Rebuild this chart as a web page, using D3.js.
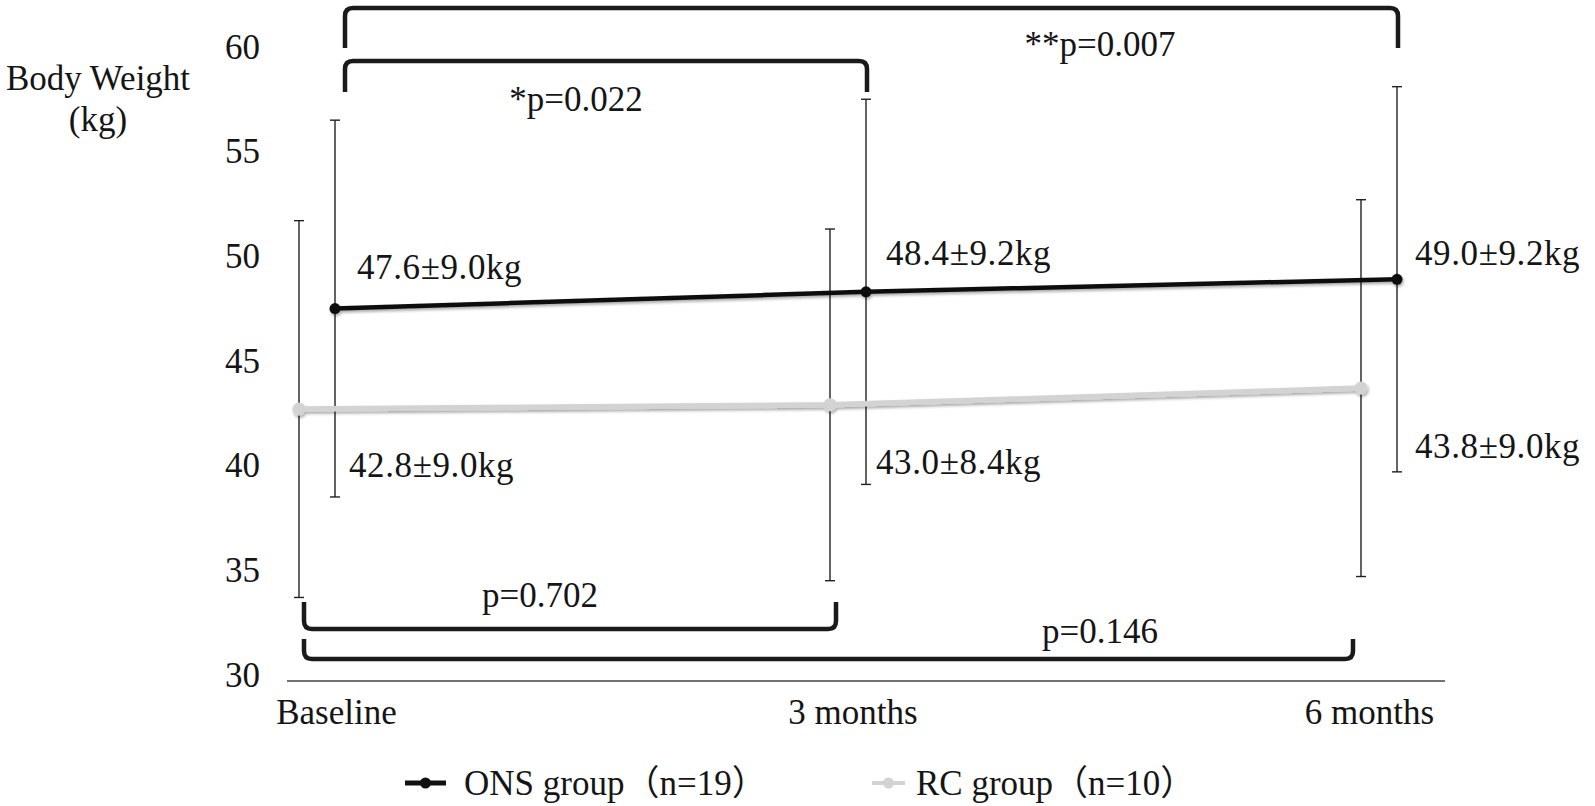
<!DOCTYPE html>
<html>
<head>
<meta charset="utf-8">
<script src="https://cdn.jsdelivr.net/npm/d3@7"></script>
<style>
  body { margin: 0; background: #fff; }
  text { font-family: "Liberation Serif", "Times New Roman", "Noto Sans CJK SC", serif; fill: #151515; }
</style>
</head>
<body>
<div id="chart"></div>
<script>
const WIDTH = 1595;
const HEIGHT = 806;

// data
const categories = ["Baseline", "3 months", "6 months"];
const onsMean = [47.6, 48.4, 49.0];
const onsSd = [9.0, 9.2, 9.2];
const rcMean = [42.8, 43.0, 43.8];
const rcSd = [9.0, 8.4, 9.0];
const yTicks = [30, 35, 40, 45, 50, 55, 60];
const seriesNames = ["ONS group（n=19）", "RC group（n=10）"];
const brackets = [
  {from: 0, to: 2, series: 0, label: "**p=0.007"},
  {from: 0, to: 1, series: 0, label: "*p=0.022"},
  {from: 0, to: 1, series: 1, label: "p=0.702"},
  {from: 0, to: 2, series: 1, label: "p=0.146"}
];

// layout bits
const SERIES_OFFSET = [18, -18];
const SERIES_COLOR = ["#111111", "#d3d3d3"];
const LABEL_DY = [[-30, -27, -14], [68, 69, 70]];
const LABEL_DX = [[22, 20, 18], [14, 10, 18]];
const BRACKET_Y = [{bar: 8, leg: 48, text: 56, dx: 0}, {bar: 61, leg: 92, text: 111, dx: -30},
                   {bar: 629, leg: 602, text: 607, dx: -30}, {bar: 659, leg: 639, text: 643, dx: 0}];

const svg = d3.select("#chart").append("svg")
    .attr("width", WIDTH)
    .attr("height", HEIGHT);

const defs = svg.append("defs");
defs.append("filter").attr("id", "shadow")
    .attr("x", "-5%").attr("y", "-50%").attr("width", "110%").attr("height", "200%")
  .append("feDropShadow")
    .attr("dx", 1).attr("dy", 2).attr("stdDeviation", 1.5)
    .attr("flood-color", "#000").attr("flood-opacity", 0.35);

const y = d3.scaleLinear().domain([30, 60]).range([677, 49]);
const xPt = d3.scalePoint().domain(categories).range([317, 1379]);
const xLab = d3.scalePoint().domain(categories).range([336, 1369]);

const xOf = (s, i) => xPt(categories[i]) + SERIES_OFFSET[s];

// y axis labels
const yAxis = svg.append("g")
    .attr("transform", "translate(260,-2)")
    .call(d3.axisLeft(y).tickValues(yTicks).tickSize(0).tickPadding(0));
yAxis.select(".domain").remove();
yAxis.attr("font-family", null);
yAxis.selectAll("text")
    .attr("font-size", 35);

// x axis line + labels
svg.append("line")
    .attr("x1", 287).attr("x2", 1445)
    .attr("y1", y(30) + 4).attr("y2", y(30) + 4)
    .attr("stroke", "#444").attr("stroke-width", 1.3);

const xAxis = svg.append("g")
    .attr("transform", `translate(0,${y(30) + 4})`)
    .call(d3.axisBottom(xLab).tickSize(0).tickPadding(18));
xAxis.select(".domain").remove();
xAxis.attr("font-family", null);
xAxis.selectAll("text")
    .attr("font-size", 35);

// y title
svg.append("text").attr("x", 98).attr("y", 90)
    .attr("text-anchor", "middle").attr("font-size", 35).text("Body Weight");
svg.append("text").attr("x", 98).attr("y", 131)
    .attr("text-anchor", "middle").attr("font-size", 35).text("(kg)");

const series = [
  {mean: onsMean, sd: onsSd},
  {mean: rcMean, sd: rcSd}
];

// error bars
series.forEach((s, si) => {
  const g = svg.append("g").attr("class", "errbars");
  const rows = s.mean.map((m, i) => ({i, lo: m - s.sd[i], hi: m + s.sd[i]}));
  g.selectAll("line.v").data(rows).enter().append("line")
      .attr("x1", d => xOf(si, d.i)).attr("x2", d => xOf(si, d.i))
      .attr("y1", d => y(d.lo)).attr("y2", d => y(d.hi))
      .attr("stroke", "#222").attr("stroke-width", 1.4);
  ["lo", "hi"].forEach(k => {
    g.selectAll("line.c" + k).data(rows).enter().append("line")
        .attr("x1", d => xOf(si, d.i) - 5).attr("x2", d => xOf(si, d.i) + 5)
        .attr("y1", d => y(d[k])).attr("y2", d => y(d[k]))
        .attr("stroke", "#222").attr("stroke-width", 1.4);
  });
});

// lines and points (RC first so ONS sits on top)
[1, 0].forEach(si => {
  const s = series[si];
  const line = d3.line()
      .x((d, i) => xOf(si, i))
      .y(d => y(d));
  const g = svg.append("g").attr("filter", "url(#shadow)");
  g.append("path")
      .datum(s.mean)
      .attr("d", line)
      .attr("fill", "none")
      .attr("stroke", SERIES_COLOR[si])
      .attr("stroke-width", si === 0 ? 4.5 : 5.5);
  g.selectAll("circle").data(s.mean).enter().append("circle")
      .attr("cx", (d, i) => xOf(si, i))
      .attr("cy", d => y(d))
      .attr("r", si === 0 ? 5.5 : 6.5)
      .attr("fill", SERIES_COLOR[si]);
});

// value labels
series.forEach((s, si) => {
  svg.append("g").selectAll("text").data(s.mean).enter().append("text")
      .attr("x", (d, i) => xOf(0, i) + LABEL_DX[si][i])
      .attr("y", (d, i) => y(d) + LABEL_DY[si][i])
      .attr("font-size", 35)
      .attr("letter-spacing", 0.6)
      .text((d, i) => `${d.toFixed(1)}±${s.sd[i].toFixed(1)}kg`);
});

// significance brackets
const R = 8;
brackets.forEach((b, bi) => {
  const x1 = xOf(b.series, b.from) + (b.series === 0 ? 10 : 5);
  const x2 = xOf(b.series, b.to) + (b.series === 0 ? 1 : (b.to === 2 ? -8 : 6));
  const yb = BRACKET_Y[bi].bar, yl = BRACKET_Y[bi].leg;
  const dir = yl > yb ? 1 : -1;
  const p = d3.path();
  p.moveTo(x1, yl);
  p.lineTo(x1, yb + dir * R);
  p.quadraticCurveTo(x1, yb, x1 + R, yb);
  p.lineTo(x2 - R, yb);
  p.quadraticCurveTo(x2, yb, x2, yb + dir * R);
  p.lineTo(x2, yl);
  svg.append("path")
      .attr("d", p.toString())
      .attr("fill", "none")
      .attr("stroke", "#1a1a1a")
      .attr("stroke-width", 4.5);
  svg.append("text")
      .attr("x", b.to === 2 ? 1100 : (x1 + x2) / 2 + BRACKET_Y[bi].dx)
      .attr("y", BRACKET_Y[bi].text)
      .attr("text-anchor", "middle")
      .attr("font-size", 35)
      .text(b.label);
});

// legend
const legend = svg.append("g").attr("transform", "translate(0,783)");
const legX = [[405, 446, 464], [872, 905, 916]];
seriesNames.forEach((name, si) => {
  const g = legend.append("g");
  g.append("line")
      .attr("x1", legX[si][0]).attr("x2", legX[si][1])
      .attr("y1", 0).attr("y2", 0)
      .attr("stroke", SERIES_COLOR[si]).attr("stroke-width", si === 0 ? 5 : 4);
  g.append("circle")
      .attr("cx", (legX[si][0] + legX[si][1]) / 2).attr("cy", 0)
      .attr("r", 5.5).attr("fill", SERIES_COLOR[si]);
  g.append("text")
      .attr("x", legX[si][2]).attr("y", 12)
      .attr("font-size", 35)
      .text(name);
});
</script>
</body>
</html>
